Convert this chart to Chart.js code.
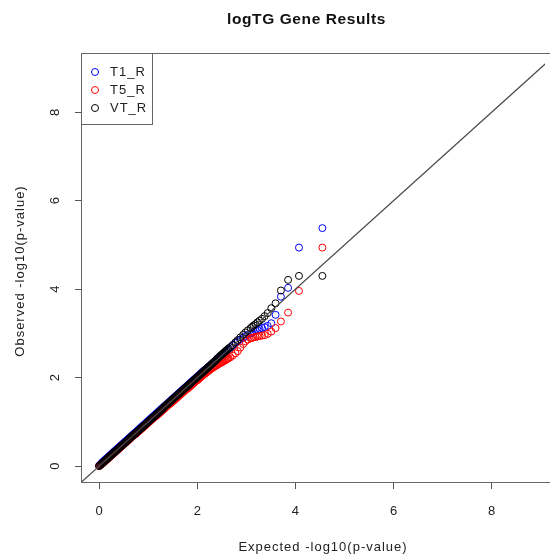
<!DOCTYPE html>
<html>
<head>
<meta charset="utf-8">
<title>logTG Gene Results</title>
<script src="https://cdn.jsdelivr.net/npm/chart.js@4.4.1/dist/chart.umd.min.js"></script>
<style>
  html, body { margin: 0; padding: 0; background: #ffffff; }
  canvas { display: block; }
</style>
</head>
<body>
<canvas id="qq" width="550" height="555"></canvas>
<script>
// Expected -log10(p) quantiles (sorted, largest first)
const expected = [
  4.550, 4.073, 3.851, 3.705, 3.596, 3.509, 3.436, 3.374, 3.320, 3.271, 3.228, 3.188,
  3.152, 3.119, 3.088, 3.032, 2.982, 2.937, 2.878, 2.826, 2.779, 2.724, 2.675,
  2.64, 2.62, 2.60, 2.58, 2.56, 2.54, 2.52, 2.50, 2.48, 2.46,
  2.44, 2.42, 2.40, 2.38, 2.36, 2.34, 2.32, 2.30, 2.28, 2.26,
  2.24, 2.22, 2.20, 2.18, 2.16, 2.14, 2.12, 2.10, 2.08, 2.06,
  2.04, 2.02, 2.00, 1.98, 1.96, 1.94, 1.92, 1.90, 1.88, 1.86,
  1.84, 1.82, 1.80, 1.78, 1.76, 1.74, 1.72, 1.70, 1.68, 1.66,
  1.64, 1.62, 1.60, 1.58, 1.56, 1.54, 1.52, 1.50, 1.48, 1.46,
  1.44, 1.42, 1.40, 1.38, 1.36, 1.34, 1.32, 1.30, 1.28, 1.26,
  1.24, 1.22, 1.20, 1.18, 1.16, 1.14, 1.12, 1.10, 1.08, 1.06,
  1.04, 1.02, 1.00, 0.98, 0.96, 0.94, 0.92, 0.90, 0.88, 0.86,
  0.84, 0.82, 0.80, 0.78, 0.76, 0.74, 0.72, 0.70, 0.68, 0.66,
  0.64, 0.62, 0.60, 0.58, 0.56, 0.54, 0.52, 0.50, 0.48, 0.46,
  0.44, 0.42, 0.40, 0.38, 0.36, 0.34, 0.32, 0.30, 0.28, 0.26,
  0.24, 0.22, 0.20, 0.18, 0.16, 0.14, 0.12, 0.10, 0.08, 0.06,
  0.04, 0.02, 0.00
];

// Observed -log10(p) for each trait, same order as expected
const observedT1 = [
  5.38, 4.94, 4.03, 3.83, 3.42, 3.23, 3.17, 3.14, 3.12, 3.10, 3.08, 3.06,
  3.04, 3.02, 3.00, 2.97, 2.94, 2.90, 2.86, 2.82, 2.78, 2.73, 2.68,
  2.65, 2.63, 2.61, 2.59, 2.57, 2.55, 2.53, 2.51, 2.49, 2.47,
  2.45, 2.43, 2.41, 2.39, 2.37, 2.35, 2.33, 2.31, 2.29, 2.27,
  2.25, 2.23, 2.21, 2.19, 2.18, 2.16, 2.14, 2.12, 2.10, 2.08,
  2.06, 2.04, 2.02, 2.00, 1.98, 1.96, 1.94, 1.92, 1.90, 1.88,
  1.86, 1.84, 1.82, 1.80, 1.78, 1.76, 1.74, 1.72, 1.70, 1.68,
  1.66, 1.64, 1.62, 1.60, 1.58, 1.56, 1.54, 1.52, 1.50, 1.48,
  1.46, 1.44, 1.42, 1.40, 1.38, 1.36, 1.34, 1.32, 1.30, 1.28,
  1.26, 1.24, 1.22, 1.20, 1.18, 1.16, 1.14, 1.12, 1.10, 1.08,
  1.06, 1.04, 1.02, 1.00, 0.98, 0.96, 0.94, 0.92, 0.90, 0.88,
  0.86, 0.84, 0.82, 0.80, 0.78, 0.76, 0.74, 0.72, 0.70, 0.68,
  0.66, 0.64, 0.62, 0.60, 0.58, 0.56, 0.54, 0.52, 0.50, 0.48,
  0.46, 0.44, 0.42, 0.40, 0.38, 0.36, 0.34, 0.32, 0.30, 0.28,
  0.26, 0.24, 0.22, 0.20, 0.18, 0.16, 0.14, 0.12, 0.10, 0.08,
  0.05, 0.03, 0.01
];
const observedT5 = [
  4.94, 3.96, 3.47, 3.27, 3.12, 3.04, 2.99, 2.96, 2.95, 2.94, 2.93, 2.92,
  2.91, 2.90, 2.89, 2.86, 2.82, 2.76, 2.68, 2.60, 2.55, 2.50, 2.46,
  2.44, 2.43, 2.41, 2.40, 2.39, 2.37, 2.36, 2.35, 2.34, 2.32,
  2.31, 2.30, 2.28, 2.27, 2.26, 2.24, 2.23, 2.21, 2.20, 2.18,
  2.16, 2.15, 2.13, 2.11, 2.09, 2.08, 2.06, 2.04, 2.02, 2.00,
  1.98, 1.96, 1.94, 1.93, 1.91, 1.89, 1.87, 1.85, 1.83, 1.81,
  1.79, 1.77, 1.75, 1.74, 1.72, 1.70, 1.68, 1.66, 1.64, 1.62,
  1.60, 1.58, 1.56, 1.54, 1.52, 1.50, 1.48, 1.46, 1.44, 1.42,
  1.41, 1.39, 1.37, 1.35, 1.33, 1.31, 1.29, 1.27, 1.25, 1.23,
  1.21, 1.19, 1.17, 1.15, 1.13, 1.12, 1.10, 1.08, 1.06, 1.04,
  1.02, 1.00, 0.98, 0.96, 0.94, 0.92, 0.90, 0.88, 0.86, 0.84,
  0.82, 0.80, 0.78, 0.76, 0.74, 0.72, 0.71, 0.69, 0.67, 0.65,
  0.63, 0.61, 0.59, 0.57, 0.55, 0.53, 0.51, 0.49, 0.47, 0.45,
  0.43, 0.41, 0.39, 0.37, 0.35, 0.33, 0.31, 0.29, 0.27, 0.25,
  0.23, 0.21, 0.19, 0.17, 0.15, 0.13, 0.11, 0.09, 0.07, 0.06,
  0.04, 0.02, 0.00
];
const observedVT = [
  4.30, 4.30, 4.21, 3.97, 3.68, 3.57, 3.46, 3.39, 3.33, 3.29, 3.25, 3.21,
  3.18, 3.15, 3.12, 3.07, 3.02, 2.97, 2.91, 2.85, 2.80, 2.74, 2.69,
  2.66, 2.64, 2.62, 2.60, 2.58, 2.56, 2.54, 2.52, 2.50, 2.48,
  2.46, 2.44, 2.42, 2.39, 2.37, 2.35, 2.33, 2.31, 2.29, 2.27,
  2.25, 2.23, 2.21, 2.19, 2.17, 2.15, 2.13, 2.11, 2.09, 2.07,
  2.05, 2.03, 2.01, 1.99, 1.97, 1.95, 1.93, 1.91, 1.89, 1.87,
  1.85, 1.83, 1.81, 1.79, 1.77, 1.75, 1.73, 1.71, 1.69, 1.67,
  1.65, 1.63, 1.61, 1.59, 1.57, 1.55, 1.53, 1.51, 1.49, 1.47,
  1.45, 1.43, 1.41, 1.39, 1.37, 1.35, 1.33, 1.30, 1.28, 1.26,
  1.24, 1.22, 1.20, 1.18, 1.16, 1.14, 1.12, 1.10, 1.08, 1.06,
  1.04, 1.02, 1.00, 0.98, 0.96, 0.94, 0.92, 0.90, 0.88, 0.86,
  0.84, 0.82, 0.80, 0.78, 0.76, 0.74, 0.72, 0.70, 0.68, 0.66,
  0.64, 0.62, 0.60, 0.58, 0.56, 0.54, 0.52, 0.50, 0.48, 0.46,
  0.44, 0.42, 0.40, 0.38, 0.36, 0.34, 0.32, 0.30, 0.28, 0.26,
  0.24, 0.22, 0.20, 0.18, 0.16, 0.14, 0.12, 0.10, 0.08, 0.06,
  0.04, 0.02, 0.00
];

const seriesNames = ['T1_R', 'T5_R', 'VT_R'];
const seriesColors = ['#0000ff', '#ff0000', '#000000'];
const xTicks = [0, 2, 4, 6, 8];
const yTicks = [0, 2, 4, 6, 8];
const identityEnds = [-1, 10];   // y = x reference line endpoints

const FONT = '"Liberation Sans", Arial, Helvetica, sans-serif';
const AXIS_GREY = '#555555';

function toPoints(obs) {
  return expected.map((x, i) => ({ x: x, y: obs[i] }));
}

function circleSet(label, obs, color, order) {
  return {
    label: label,
    data: toPoints(obs),
    showLine: false,
    pointStyle: 'circle',
    pointRadius: 3.5,
    pointBorderWidth: 1,
    pointBorderColor: color,
    pointBackgroundColor: 'rgba(0,0,0,0)',
    borderColor: color,
    backgroundColor: 'rgba(0,0,0,0)',
    order: order
  };
}

// Frame, titles and legend box drawn on top of the plot
const decorations = {
  id: 'decorations',
  afterDraw(chart) {
    const ctx = chart.ctx;
    const a = chart.chartArea;
    ctx.save();

    // plot frame
    ctx.strokeStyle = '#666666';
    ctx.lineWidth = 1;
    ctx.strokeRect(a.left - 0.5, a.top + 0.5, a.right - a.left + 20, a.bottom - a.top);

    // main title
    ctx.fillStyle = '#111111';
    ctx.font = 'bold 15.5px ' + FONT;
    ctx.letterSpacing = '0.6px';
    ctx.textAlign = 'center';
    ctx.textBaseline = 'alphabetic';
    ctx.fillText('logTG Gene Results', 306.5, 24);

    // axis titles
    ctx.font = '13px ' + FONT;
    ctx.letterSpacing = '1px';
    ctx.fillStyle = '#222222';
    ctx.fillText('Expected -log10(p-value)', 323, 551);
    ctx.save();
    ctx.translate(24, 271);
    ctx.rotate(-Math.PI / 2);
    ctx.fillText('Observed -log10(p-value)', 0, 0);
    ctx.restore();

    // legend
    const lx = a.left - 0.5, ly = a.top + 0.5;
    ctx.strokeStyle = '#666666';
    ctx.strokeRect(lx, ly, 71, 71);
    const rows = [72, 90, 108];
    ctx.textAlign = 'left';
    ctx.textBaseline = 'middle';
    seriesNames.forEach((name, i) => {
      ctx.beginPath();
      ctx.arc(95, rows[i], 3.5, 0, Math.PI * 2);
      ctx.strokeStyle = seriesColors[i];
      ctx.lineWidth = 1;
      ctx.stroke();
      ctx.fillStyle = '#222222';
      ctx.fillText(name, 110, rows[i] + 0.5);
    });
    ctx.restore();
  }
};

new Chart(document.getElementById('qq'), {
  type: 'scatter',
  data: {
    datasets: [
      {
        label: 'identity',
        data: identityEnds.map(v => ({ x: v, y: v })),
        showLine: true,
        borderColor: '#4a4a4a',
        borderWidth: 1.3,
        pointRadius: 0,
        fill: false,
        order: 0
      },
      circleSet(seriesNames[0], observedT1, seriesColors[0], 3),
      circleSet(seriesNames[1], observedT5, seriesColors[1], 2),
      circleSet(seriesNames[2], observedVT, seriesColors[2], 1)
    ]
  },
  options: {
    responsive: false,
    animation: false,
    events: [],
    layout: { padding: { left: 0, top: 53, right: 0, bottom: 0 } },
    plugins: {
      legend: { display: false },
      tooltip: { enabled: false },
      title: { display: false }
    },
    scales: {
      x: {
        type: 'linear',
        position: 'bottom',
        min: -0.349,
        max: 9.087,
        afterBuildTicks: s => { s.ticks = xTicks.map(v => ({ value: v })); },
        afterFit: s => { s.height = 73; },
        border: { display: false },
        grid: {
          drawOnChartArea: false,
          drawTicks: true,
          tickLength: 7,
          color: AXIS_GREY,
          lineWidth: 1
        },
        ticks: {
          color: '#222222',
          font: { family: FONT, size: 13 },
          padding: 14.5,
          minRotation: 0,
          maxRotation: 0
        }
      },
      y: {
        type: 'linear',
        position: 'left',
        min: -0.36,
        max: 9.34,
        afterBuildTicks: s => { s.ticks = yTicks.map(v => ({ value: v })); },
        afterFit: s => { s.width = 82; },
        border: { display: false },
        grid: {
          drawOnChartArea: false,
          drawTicks: true,
          tickLength: 7,
          color: AXIS_GREY,
          lineWidth: 1
        },
        ticks: {
          color: '#222222',
          font: { family: FONT, size: 13 },
          padding: 16.4,
          minRotation: 90,
          maxRotation: 90,
          crossAlign: 'center'
        }
      }
    }
  },
  plugins: [decorations]
});
</script>
</body>
</html>
